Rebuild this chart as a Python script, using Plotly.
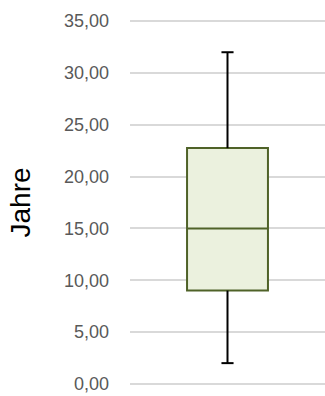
import plotly.graph_objects as go

# Five-number summary (years)
category = ["Jahre"]
q1 = [9.0]
median = [15.0]
q3 = [22.75]
lower_whisker = [2.0]
upper_whisker = [32.0]
tick_values = [0, 5, 10, 15, 20, 25, 30, 35]

x0 = 0.0
box_width = 0.415
cap_half = 0.031

fig = go.Figure()

# Whiskers (black) with caps
for lo, hi in [(lower_whisker[0], q1[0]), (q3[0], upper_whisker[0])]:
    fig.add_trace(go.Scatter(x=[x0, x0], y=[lo, hi], mode="lines",
                             line=dict(color="black", width=2),
                             hoverinfo="skip", showlegend=False))
for v in [lower_whisker[0], upper_whisker[0]]:
    fig.add_trace(go.Scatter(x=[x0 - cap_half, x0 + cap_half], y=[v, v], mode="lines",
                             line=dict(color="black", width=2),
                             hoverinfo="skip", showlegend=False))

# Box with median line
fig.add_trace(go.Box(
    x=[x0], q1=q1, median=median, q3=q3,
    lowerfence=q1, upperfence=q3,
    width=box_width, whiskerwidth=0,
    fillcolor="#EBF1DE", line=dict(color="#4F6228", width=2),
    boxpoints=False, showlegend=False, name=category[0],
))

fig.update_layout(
    width=325, height=396,
    margin=dict(l=130, r=0, t=17, b=8),
    paper_bgcolor="white", plot_bgcolor="white",
    separators=",.",
    font=dict(family="Liberation Sans, Arial, sans-serif"),
    xaxis=dict(range=[-0.5, 0.5], visible=False, showgrid=False, zeroline=False),
    yaxis=dict(
        range=[-0.4, 35.4], tickvals=tick_values, tickformat=".2f",
        showgrid=True, gridcolor="#D9D9D9", gridwidth=1.5,
        zeroline=False, showline=False, ticks="",
        ticklabelstandoff=20,
        tickfont=dict(size=18, color="#595959"),
        title=dict(text="Jahre", font=dict(size=28, color="black"), standoff=25),
    ),
)

fig.write_html("out.html")
